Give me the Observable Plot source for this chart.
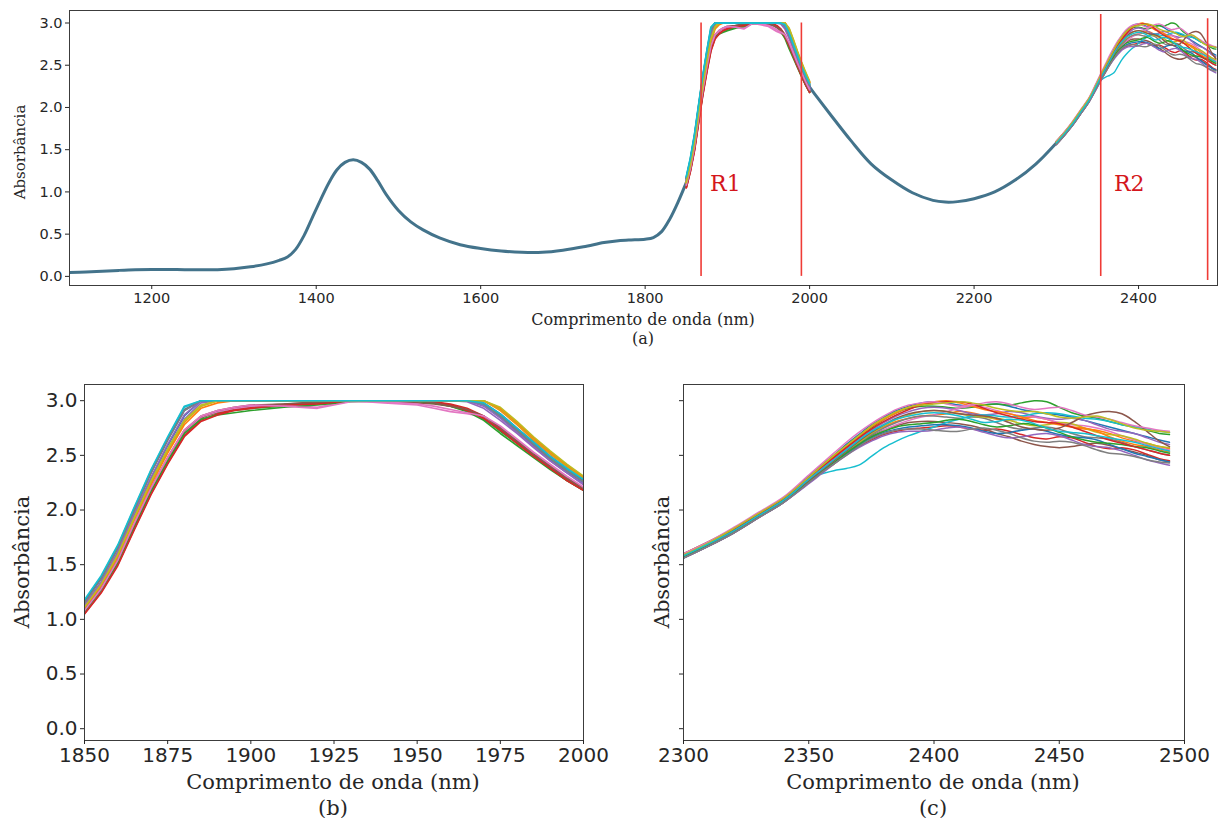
<!DOCTYPE html>
<html><head><meta charset="utf-8">
<script src="https://cdn.jsdelivr.net/npm/d3@7"></script>
<script src="https://cdn.jsdelivr.net/npm/@observablehq/plot@0.6"></script>
<style>
body{margin:0;background:#fff;}
#root{position:relative;width:1220px;height:818px;overflow:hidden;background:#fff;}
.panel{position:absolute;}
.lbl{position:absolute;font-family:"DejaVu Serif",serif;color:#262626;white-space:nowrap;transform:translate(-50%,-50%);line-height:1;}
.rot{transform:translate(-50%,-50%) rotate(-90deg);}
</style></head><body><div id="root"></div>
<script>
// ---------- data ----------
const baseWlLeft = [1100,1120,1140,1160,1180,1200,1220,1240,1260,1280,1300,1320,1340,1355,1365,1375,1385,1395,1405,1415,1425,1435,1445,1455,1465,1475,1485,1500,1515,1530,1550,1575,1600,1625,1650,1675,1700,1725,1750,1765,1780,1800,1810,1820,1830,1840,1850];
const baseAbsLeft = [0.045,0.052,0.062,0.071,0.078,0.081,0.081,0.079,0.078,0.079,0.09,0.113,0.148,0.19,0.23,0.32,0.48,0.69,0.9,1.1,1.26,1.35,1.38,1.35,1.27,1.13,0.97,0.78,0.645,0.55,0.455,0.375,0.33,0.30,0.285,0.285,0.31,0.35,0.40,0.42,0.43,0.44,0.46,0.53,0.68,0.88,1.11];
const baseWlRight = [2000,2010,2025,2050,2075,2100,2125,2150,2165,2180,2200,2225,2250,2275,2300];
const baseAbsRight = [2.24,2.11,1.92,1.61,1.33,1.14,0.99,0.90,0.88,0.885,0.92,1.0,1.14,1.33,1.58];

const r1Wl = [1850,1855,1860,1865,1870,1875,1880,1885,1890,1895,1900,1910,1920,1930,1940,1950,1955,1960,1965,1970,1975,1980,1985,1990,1995,2000];
const r1Series = [
  [1.13,1.34,1.61,1.96,2.29,2.59,2.86,3.0,3.0,3.0,3.0,3.0,3.0,3.0,3.0,3.0,3.0,3.0,3.0,2.96,2.85,2.72,2.59,2.46,2.35,2.25],
  [1.11,1.31,1.58,1.92,2.25,2.54,2.80,2.95,3.0,3.0,3.0,3.0,3.0,3.0,3.0,3.0,3.0,3.0,3.0,3.0,2.91,2.78,2.64,2.51,2.40,2.29],
  [1.08,1.28,1.54,1.87,2.19,2.47,2.72,2.85,2.89,2.91,2.93,2.95,2.97,3.0,3.0,2.99,2.98,2.96,2.92,2.84,2.72,2.61,2.50,2.39,2.29,2.19],
  [1.05,1.25,1.50,1.83,2.15,2.43,2.68,2.82,2.88,2.92,2.94,2.96,2.98,3.0,3.0,3.0,2.99,2.97,2.93,2.86,2.74,2.62,2.50,2.38,2.27,2.18],
  [1.12,1.32,1.59,1.93,2.26,2.56,2.83,2.98,3.0,3.0,3.0,3.0,3.0,3.0,3.0,3.0,3.0,3.0,2.99,2.93,2.82,2.70,2.57,2.45,2.34,2.23],
  [1.06,1.26,1.51,1.84,2.16,2.44,2.70,2.84,2.90,2.93,2.95,2.97,2.98,3.0,2.99,2.98,2.97,2.95,2.91,2.83,2.73,2.62,2.50,2.39,2.28,2.19],
  [1.07,1.27,1.53,1.86,2.18,2.46,2.71,2.85,2.90,2.93,2.95,2.96,2.94,3.0,2.98,2.96,2.93,2.90,2.88,2.85,2.76,2.64,2.52,2.41,2.30,2.20],
  [1.16,1.38,1.66,2.01,2.35,2.65,2.92,3.0,3.0,3.0,3.0,3.0,3.0,3.0,3.0,3.0,3.0,3.0,3.0,2.97,2.87,2.74,2.61,2.48,2.37,2.26],
  [1.12,1.33,1.60,1.94,2.27,2.56,2.82,2.96,3.0,3.0,3.0,3.0,3.0,3.0,3.0,3.0,3.0,3.0,3.0,3.0,2.92,2.79,2.65,2.52,2.40,2.29],
  [1.17,1.39,1.67,2.02,2.36,2.66,2.94,3.0,3.0,3.0,3.0,3.0,3.0,3.0,3.0,3.0,3.0,3.0,3.0,2.96,2.86,2.73,2.60,2.47,2.36,2.26],
  [1.16,1.37,1.65,2.00,2.34,2.64,2.91,3.0,3.0,3.0,3.0,3.0,3.0,3.0,3.0,3.0,3.0,3.0,3.0,2.98,2.88,2.75,2.62,2.49,2.38,2.27],
  [1.10,1.30,1.57,1.91,2.23,2.52,2.78,2.93,2.98,3.0,3.0,3.0,3.0,3.0,3.0,3.0,3.0,3.0,3.0,3.0,2.93,2.80,2.66,2.53,2.41,2.30],
  [1.07,1.27,1.52,1.85,2.17,2.45,2.70,2.83,2.87,2.89,2.91,2.94,2.96,2.99,3.0,3.0,2.98,2.95,2.90,2.82,2.70,2.59,2.48,2.37,2.27,2.18],
  [1.05,1.24,1.49,1.82,2.14,2.42,2.67,2.81,2.87,2.91,2.93,2.96,2.97,3.0,3.0,3.0,2.99,2.96,2.91,2.84,2.73,2.61,2.49,2.38,2.27,2.18],
  [1.13,1.34,1.62,1.97,2.30,2.60,2.87,3.0,3.0,3.0,3.0,3.0,3.0,3.0,3.0,3.0,3.0,3.0,3.0,2.95,2.84,2.71,2.58,2.45,2.34,2.24],
  [1.08,1.28,1.54,1.87,2.20,2.48,2.73,2.86,2.91,2.94,2.96,2.97,2.99,3.0,3.0,3.0,2.98,2.95,2.92,2.86,2.75,2.63,2.51,2.40,2.29,2.20],
  [1.08,1.28,1.54,1.88,2.20,2.48,2.73,2.86,2.91,2.94,2.96,2.95,2.93,2.99,2.99,2.97,2.95,2.92,2.89,2.86,2.77,2.65,2.53,2.42,2.31,2.21],
  [1.15,1.37,1.65,2.00,2.34,2.64,2.91,3.0,3.0,3.0,3.0,3.0,3.0,3.0,3.0,3.0,3.0,3.0,3.0,2.97,2.86,2.73,2.60,2.47,2.36,2.26],
  [1.11,1.32,1.59,1.93,2.26,2.55,2.81,2.95,3.0,3.0,3.0,3.0,3.0,3.0,3.0,3.0,3.0,3.0,3.0,3.0,2.94,2.81,2.67,2.54,2.42,2.31],
  [1.18,1.40,1.68,2.03,2.37,2.67,2.95,3.0,3.0,3.0,3.0,3.0,3.0,3.0,3.0,3.0,3.0,3.0,3.0,2.98,2.88,2.75,2.62,2.49,2.38,2.28]
];

const r2Wl = [2300,2310,2320,2330,2340,2350,2355,2360,2365,2370,2375,2380,2385,2390,2395,2400,2405,2410,2415,2420,2425,2430,2435,2440,2445,2450,2455,2460,2465,2470,2475,2480,2485,2490,2494];
const r2Series = [
  [1.60,1.71,1.83,1.97,2.11,2.31,2.41,2.50,2.60,2.69,2.78,2.85,2.91,2.95,2.98,2.99,2.98,2.96,2.95,2.96,2.97,2.95,2.92,2.90,2.88,2.87,2.85,2.82,2.79,2.76,2.73,2.70,2.67,2.64,2.62],
  [1.58,1.69,1.81,1.95,2.09,2.28,2.37,2.46,2.55,2.63,2.70,2.76,2.81,2.84,2.86,2.87,2.88,2.90,2.89,2.86,2.83,2.82,2.84,2.85,2.83,2.79,2.76,2.74,2.73,2.70,2.66,2.63,2.61,2.58,2.56],
  [1.59,1.70,1.82,1.96,2.10,2.29,2.39,2.48,2.57,2.66,2.75,2.83,2.89,2.93,2.95,2.95,2.94,2.93,2.94,2.96,2.97,2.96,2.98,3.0,2.99,2.94,2.89,2.86,2.84,2.81,2.78,2.76,2.73,2.70,2.69],
  [1.56,1.67,1.79,1.93,2.07,2.25,2.34,2.42,2.51,2.58,2.64,2.69,2.72,2.74,2.75,2.76,2.77,2.76,2.74,2.73,2.74,2.72,2.69,2.66,2.65,2.67,2.66,2.62,2.58,2.56,2.57,2.55,2.51,2.47,2.45],
  [1.59,1.70,1.82,1.96,2.10,2.29,2.38,2.47,2.56,2.65,2.73,2.80,2.86,2.90,2.93,2.94,2.93,2.91,2.88,2.87,2.88,2.90,2.89,2.86,2.84,2.83,2.84,2.82,2.78,2.74,2.72,2.70,2.66,2.62,2.60],
  [1.57,1.68,1.80,1.94,2.08,2.27,2.36,2.45,2.53,2.61,2.68,2.73,2.77,2.80,2.81,2.81,2.80,2.79,2.77,2.74,2.70,2.67,2.63,2.60,2.58,2.57,2.58,2.60,2.61,2.59,2.56,2.53,2.50,2.46,2.44],
  [1.58,1.69,1.81,1.95,2.09,2.28,2.36,2.44,2.52,2.60,2.67,2.73,2.78,2.82,2.85,2.87,2.90,2.93,2.95,2.94,2.91,2.88,2.86,2.85,2.83,2.80,2.78,2.77,2.75,2.72,2.68,2.64,2.60,2.57,2.55],
  [1.57,1.68,1.80,1.94,2.08,2.26,2.35,2.44,2.53,2.61,2.69,2.75,2.80,2.84,2.86,2.86,2.85,2.84,2.85,2.84,2.80,2.76,2.74,2.75,2.76,2.74,2.70,2.67,2.66,2.65,2.62,2.58,2.55,2.52,2.50],
  [1.58,1.69,1.81,1.95,2.09,2.27,2.36,2.45,2.54,2.62,2.70,2.77,2.83,2.87,2.90,2.91,2.90,2.88,2.86,2.85,2.84,2.82,2.79,2.77,2.78,2.80,2.79,2.75,2.71,2.69,2.68,2.65,2.61,2.58,2.57],
  [1.59,1.70,1.82,1.96,2.10,2.28,2.33,2.36,2.38,2.41,2.49,2.57,2.63,2.68,2.72,2.76,2.80,2.83,2.86,2.87,2.86,2.85,2.86,2.88,2.89,2.88,2.86,2.84,2.83,2.81,2.78,2.76,2.74,2.72,2.71],
  [1.56,1.67,1.79,1.93,2.07,2.25,2.34,2.43,2.51,2.59,2.66,2.71,2.74,2.76,2.77,2.78,2.78,2.77,2.75,2.72,2.70,2.71,2.73,2.74,2.72,2.69,2.67,2.66,2.64,2.60,2.56,2.52,2.49,2.46,2.44],
  [1.60,1.71,1.83,1.97,2.11,2.30,2.40,2.49,2.58,2.67,2.76,2.83,2.89,2.94,2.97,2.99,3.0,2.98,2.95,2.92,2.90,2.88,2.85,2.82,2.80,2.78,2.76,2.75,2.72,2.67,2.63,2.60,2.58,2.55,2.53],
  [1.57,1.68,1.80,1.94,2.08,2.26,2.35,2.43,2.52,2.60,2.67,2.72,2.76,2.78,2.79,2.80,2.82,2.83,2.81,2.78,2.76,2.77,2.79,2.78,2.75,2.71,2.67,2.64,2.62,2.61,2.60,2.58,2.57,2.54,2.52],
  [1.59,1.70,1.82,1.96,2.10,2.29,2.39,2.48,2.57,2.66,2.74,2.81,2.87,2.92,2.96,2.98,2.99,2.99,2.97,2.93,2.89,2.86,2.83,2.81,2.80,2.79,2.76,2.72,2.68,2.64,2.61,2.58,2.55,2.52,2.50],
  [1.56,1.67,1.79,1.93,2.07,2.24,2.33,2.42,2.50,2.57,2.63,2.68,2.71,2.72,2.72,2.73,2.75,2.76,2.74,2.71,2.68,2.66,2.67,2.69,2.70,2.68,2.64,2.60,2.58,2.57,2.54,2.50,2.46,2.43,2.41],
  [1.58,1.69,1.81,1.95,2.09,2.27,2.36,2.45,2.54,2.63,2.71,2.78,2.84,2.88,2.90,2.91,2.90,2.88,2.87,2.86,2.84,2.80,2.76,2.74,2.73,2.75,2.80,2.86,2.89,2.90,2.88,2.81,2.72,2.63,2.58],
  [1.60,1.71,1.84,1.98,2.12,2.32,2.42,2.52,2.62,2.71,2.79,2.86,2.92,2.96,2.98,2.99,2.97,2.95,2.96,2.98,2.99,2.97,2.94,2.92,2.93,2.94,2.91,2.87,2.85,2.83,2.80,2.77,2.75,2.73,2.72],
  [1.56,1.67,1.79,1.93,2.07,2.25,2.34,2.42,2.50,2.58,2.65,2.70,2.73,2.74,2.74,2.73,2.72,2.72,2.74,2.75,2.73,2.70,2.66,2.63,2.62,2.63,2.62,2.59,2.55,2.52,2.51,2.49,2.46,2.44,2.43],
  [1.59,1.70,1.83,1.97,2.11,2.30,2.40,2.50,2.59,2.68,2.77,2.84,2.90,2.94,2.96,2.97,2.98,2.99,2.98,2.96,2.93,2.91,2.90,2.90,2.88,2.85,2.84,2.85,2.86,2.83,2.79,2.75,2.73,2.72,2.71],
  [1.58,1.69,1.81,1.95,2.09,2.28,2.37,2.46,2.55,2.64,2.72,2.78,2.83,2.86,2.88,2.89,2.88,2.86,2.83,2.80,2.81,2.83,2.82,2.79,2.75,2.72,2.71,2.70,2.68,2.66,2.64,2.62,2.59,2.56,2.54]
];

const markerWl = [1868, 1990, 2354, 2484];
const markerBottom = [0, 0, 0, -0.05];
const markerTop = [3.0, 3.0, 3.1, 3.05];
const regionLabels = ["R1", "R2"];
const regionLabelWl = [1879, 2370];
const regionLabelAbs = [1.1, 1.1];

const xTicksA = [1200,1400,1600,1800,2000,2200,2400];
const xTicksB = [1850,1875,1900,1925,1950,1975,2000];
const xTicksC = [2300,2350,2400,2450,2500];
const yTicks = [0,0.5,1.0,1.5,2.0,2.5,3.0];

// ---------- styling ----------
const tab10 = ["#1f77b4","#ff7f0e","#2ca02c","#d62728","#9467bd","#8c564b","#e377c2","#7f7f7f","#bcbd22","#17becf"];
const yDomain = [-0.108, 3.148];

function rows(wl, vals) { return wl.map((w, j) => ({wl: w, abs: vals[j]})).filter(d => d.abs !== undefined); }

function seriesMarks(wl, list, width, curve) {
  return list.map((vals, i) => Plot.line(rows(wl, vals), {x: "wl", y: "abs", stroke: tab10[i % 10], strokeWidth: width, curve, clip: true}));
}

function makePlot({width, height, mt, mb, ml, mr, xDomain, xTicks, fs, showYLabels, marks}) {
  return Plot.plot({
    width, height, marginTop: mt, marginBottom: mb, marginLeft: ml, marginRight: mr,
    x: {domain: xDomain, label: null},
    y: {domain: yDomain, label: null},
    style: {fontFamily: "DejaVu Sans, sans-serif", fontSize: fs + "px", color: "#262626", background: "transparent", overflow: "visible"},
    marks: [
      ...marks,
      Plot.frame({stroke: "#3c3c3c", strokeWidth: 1}),
      Plot.axisX({ticks: xTicks, tickFormat: d => String(d), tickSize: 4, tickPadding: 3, fontSize: fs}),
      Plot.axisY({ticks: yTicks, tickFormat: showYLabels ? d3.format(".1f") : () => "", tickSize: 4, tickPadding: 3, fontSize: fs})
    ]
  });
}

const root = document.getElementById("root");
function place(node, left, top) {
  const d = document.createElement("div");
  d.className = "panel"; d.style.left = left + "px"; d.style.top = top + "px";
  d.appendChild(node); root.appendChild(d);
}
function label(text, x, y, size, rotate) {
  const d = document.createElement("div");
  d.className = "lbl" + (rotate ? " rot" : "");
  d.textContent = text; d.style.left = x + "px"; d.style.top = y + "px"; d.style.fontSize = size + "px";
  root.appendChild(d);
}

// ---------- panel (a) ----------
const baseColor = "#43738b";
const plotA = makePlot({
  width: 1220, height: 320, mt: 10, mb: 35, ml: 69, mr: 3,
  xDomain: [1100, 2496], xTicks: xTicksA, fs: 14.5, showYLabels: true,
  marks: [
    Plot.line(rows(baseWlLeft, baseAbsLeft), {x: "wl", y: "abs", stroke: baseColor, strokeWidth: 3, curve: "catmull-rom", clip: true}),
    Plot.line(rows(baseWlRight, baseAbsRight), {x: "wl", y: "abs", stroke: baseColor, strokeWidth: 3, curve: "catmull-rom", clip: true}),
    ...seriesMarks(r1Wl, r1Series, 1.8, "linear"),
    ...seriesMarks(r2Wl, r2Series, 1.4, "catmull-rom"),
    Plot.ruleX(markerWl, {x: d => d, y1: (d, i) => markerBottom[i], y2: (d, i) => markerTop[i], stroke: "#ef3b36", strokeWidth: 1.6}),
    Plot.text(regionLabels, {x: (d, i) => regionLabelWl[i], y: (d, i) => regionLabelAbs[i], text: d => d, fill: "#d4161c", fontSize: 22, fontFamily: "DejaVu Serif, serif", textAnchor: "start"})
  ]
});
place(plotA, 0, 0);

// ---------- panel (b) ----------
const plotB = makePlot({
  width: 610, height: 420, mt: 14, mb: 50, ml: 84, mr: 27,
  xDomain: [1850, 2000], xTicks: xTicksB, fs: 20, showYLabels: true,
  marks: [...seriesMarks(r1Wl, r1Series, 1.6, "linear")]
});
place(plotB, 0, 370);

// ---------- panel (c) ----------
const plotC = makePlot({
  width: 610, height: 420, mt: 14, mb: 50, ml: 73, mr: 36,
  xDomain: [2300, 2500], xTicks: xTicksC, fs: 20, showYLabels: false,
  marks: [...seriesMarks(r2Wl, r2Series, 1.5, "catmull-rom")]
});
place(plotC, 610, 370);

// ---------- text ----------
label("Absorbância", 20, 152, 15, true);
label("Comprimento de onda (nm)", 643, 320, 16);
label("(a)", 643, 339, 16);
label("Absorbância", 22, 562, 21, true);
label("Comprimento de onda (nm)", 333, 782, 21);
label("(b)", 333, 808, 21);
label("Absorbância", 662, 562, 21, true);
label("Comprimento de onda (nm)", 933, 782, 21);
label("(c)", 933, 808, 21);
</script></body></html>
